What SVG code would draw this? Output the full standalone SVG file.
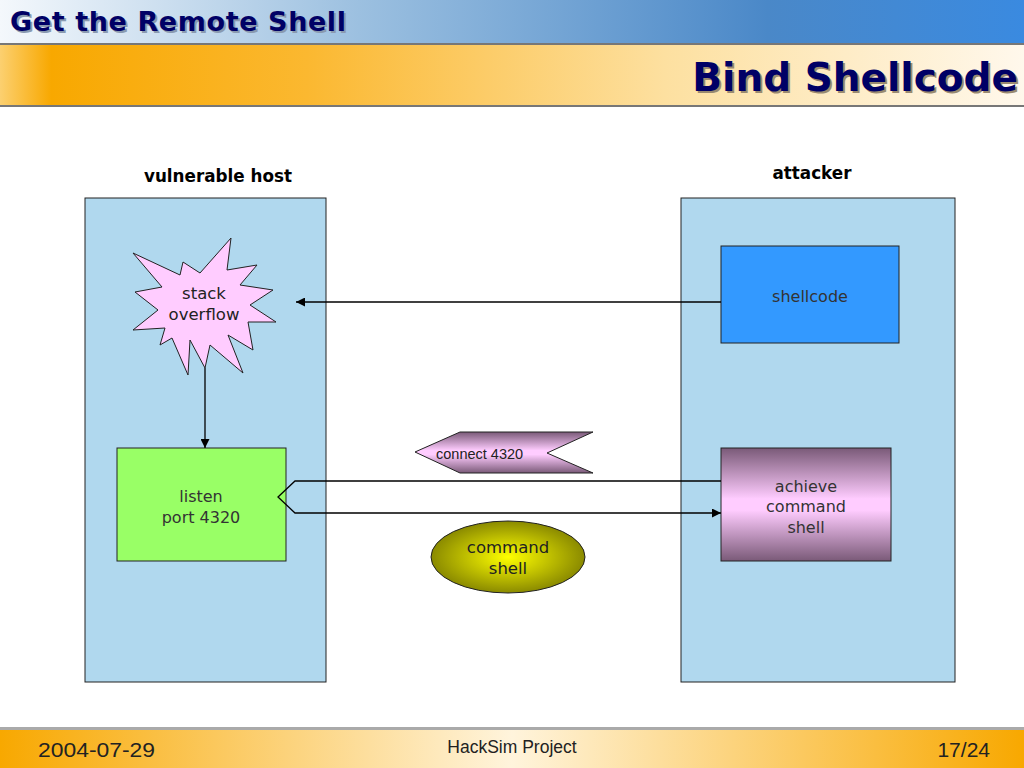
<svg xmlns="http://www.w3.org/2000/svg" width="1024" height="768" viewBox="0 0 1024 768">
<defs>
<linearGradient id="gTop" x1="0" y1="0" x2="1" y2="0">
<stop offset="0" stop-color="#f4f8fc"/><stop offset="0.35" stop-color="#9cc0e0"/><stop offset="0.75" stop-color="#4a88c8"/><stop offset="1" stop-color="#3a8ae0"/>
</linearGradient>
<linearGradient id="gOr" x1="0" y1="0" x2="1" y2="0">
<stop offset="0" stop-color="#fcd070"/><stop offset="0.05" stop-color="#f8a800"/><stop offset="0.3" stop-color="#fbb830"/><stop offset="0.65" stop-color="#fde0a0"/><stop offset="1" stop-color="#fff8ec"/>
</linearGradient>
<linearGradient id="gFoot" x1="0" y1="0" x2="1" y2="0">
<stop offset="0" stop-color="#f8a800"/><stop offset="0.5" stop-color="#fff4dc"/><stop offset="1" stop-color="#f8a800"/>
</linearGradient>
<linearGradient id="gMauve" x1="0" y1="0" x2="0" y2="1">
<stop offset="0" stop-color="#7a5a78"/><stop offset="0.45" stop-color="#ffccff"/><stop offset="0.55" stop-color="#ffccff"/><stop offset="1" stop-color="#7a5a78"/>
</linearGradient>
<radialGradient id="gYel" cx="0.5" cy="0.5" r="0.5">
<stop offset="0" stop-color="#ffff00"/><stop offset="1" stop-color="#8a8a00"/>
</radialGradient>
<marker id="arr" viewBox="0 0 10 10" refX="10" refY="5" markerWidth="9" markerHeight="9" markerUnits="userSpaceOnUse" orient="auto">
<path d="M0,0 L10,5 L0,10 z" fill="#000"/>
</marker>
<style>
.t{font-family:"DejaVu Sans",Verdana,sans-serif;font-size:16.5px;fill:#222;text-anchor:middle}
.a{font-family:"DejaVu Sans",Verdana,sans-serif;font-size:16px;fill:#333;text-anchor:middle}
.h{font-family:"DejaVu Sans",Verdana,sans-serif;font-size:16.8px;font-weight:bold;fill:#000;text-anchor:middle}
.box{stroke:#222;stroke-width:1}
.ln{stroke:#000;stroke-width:1.3;fill:none}
.f{font-family:"Liberation Sans",Arial,sans-serif;fill:#222}
</style>
</defs>
<rect width="1024" height="768" fill="#fff"/>
<!-- header -->
<rect x="0" y="0" width="1024" height="43" fill="url(#gTop)"/>
<rect x="0" y="43" width="1024" height="2" fill="#777"/>
<rect x="0" y="45" width="1024" height="60" fill="url(#gOr)"/>
<rect x="0" y="105" width="1024" height="2" fill="#777"/>
<text x="12" y="33" font-family="DejaVu Sans,Verdana,sans-serif" font-weight="bold" font-size="27" textLength="336" fill="#8a9ab0">Get the Remote Shell</text>
<text x="10" y="31" font-family="DejaVu Sans,Verdana,sans-serif" font-weight="bold" font-size="27" textLength="336" fill="#000066">Get the Remote Shell</text>
<text x="1020" y="93" text-anchor="end" font-family="DejaVu Sans,Verdana,sans-serif" font-weight="bold" font-size="39" fill="#9a8a70">Bind Shellcode</text>
<text x="1018" y="91" text-anchor="end" font-family="DejaVu Sans,Verdana,sans-serif" font-weight="bold" font-size="39" fill="#000066">Bind Shellcode</text>
<!-- footer -->
<rect x="0" y="727" width="1024" height="3" fill="#aaa"/>
<rect x="0" y="730" width="1024" height="38" fill="url(#gFoot)"/>
<text class="f" x="38" y="757" font-size="21" textLength="117" lengthAdjust="spacingAndGlyphs">2004-07-29</text>
<text class="f" x="512" y="753" font-size="17.5" text-anchor="middle">HackSim Project</text>
<text class="f" x="990" y="757" font-size="21" text-anchor="end">17/24</text>
<!-- panels -->
<g id="vulnerable-host">
<rect class="box" x="85" y="198" width="241" height="484" fill="#b0d8ee"/>
<text class="h" x="218" y="182">vulnerable host</text>
</g>
<g id="attacker">
<rect class="box" x="681" y="198" width="274" height="484" fill="#b0d8ee"/>
<text class="h" x="812" y="179">attacker</text>
</g>
<g id="stack-overflow">
<polygon class="box" fill="#ffccff" points="231,238 227,270 257,265 240,285 273,290 250,305 276,322 248,322 253,350 228,335 243,373 210,345 205,368 190,340 188,375 172,338 160,345 165,328 133,330 158,310 135,292 162,287 133,253 180,275 183,262 200,273"/>
<text class="t" x="204" y="299">stack</text>
<text class="t" x="204" y="320">overflow</text>
</g>
<g id="shellcode">
<rect class="box" x="721" y="246" width="178" height="97" fill="#3399ff"/>
<text class="a" x="810" y="302">shellcode</text>
</g>
<g id="listen">
<rect class="box" x="117" y="448" width="169" height="113" fill="#99ff66"/>
<text class="a" x="201" y="502">listen</text>
<text class="a" x="201" y="523">port 4320</text>
</g>
<g id="connect-4320">
<polygon points="415,452 460,432 593,432 547,453 593,473 460,473" fill="url(#gMauve)" stroke="#222" stroke-width="1"/>
<text x="436" y="459" font-family="Liberation Sans,Arial,sans-serif" font-size="14.5" fill="#222">connect 4320</text>
</g>
<g id="achieve">
<rect class="box" x="721" y="448" width="170" height="113" fill="url(#gMauve)"/>
<text class="a" x="806" y="492">achieve</text>
<text class="a" x="806" y="512">command</text>
<text class="a" x="806" y="533">shell</text>
</g>
<g id="command-shell">
<ellipse cx="508" cy="557" rx="77" ry="36" fill="url(#gYel)" stroke="#222" stroke-width="1"/>
<text class="t" x="508" y="553">command</text>
<text class="t" x="508" y="574">shell</text>
</g>
<g id="connectors">
<line class="ln" x1="721" y1="302" x2="296" y2="302" marker-end="url(#arr)"/>
<line class="ln" x1="205" y1="368" x2="205" y2="448" marker-end="url(#arr)"/>
<path class="ln" d="M721,481 L295,481 L278,497 L295,513 L721,513" marker-end="url(#arr)"/>
</g>
</svg>
